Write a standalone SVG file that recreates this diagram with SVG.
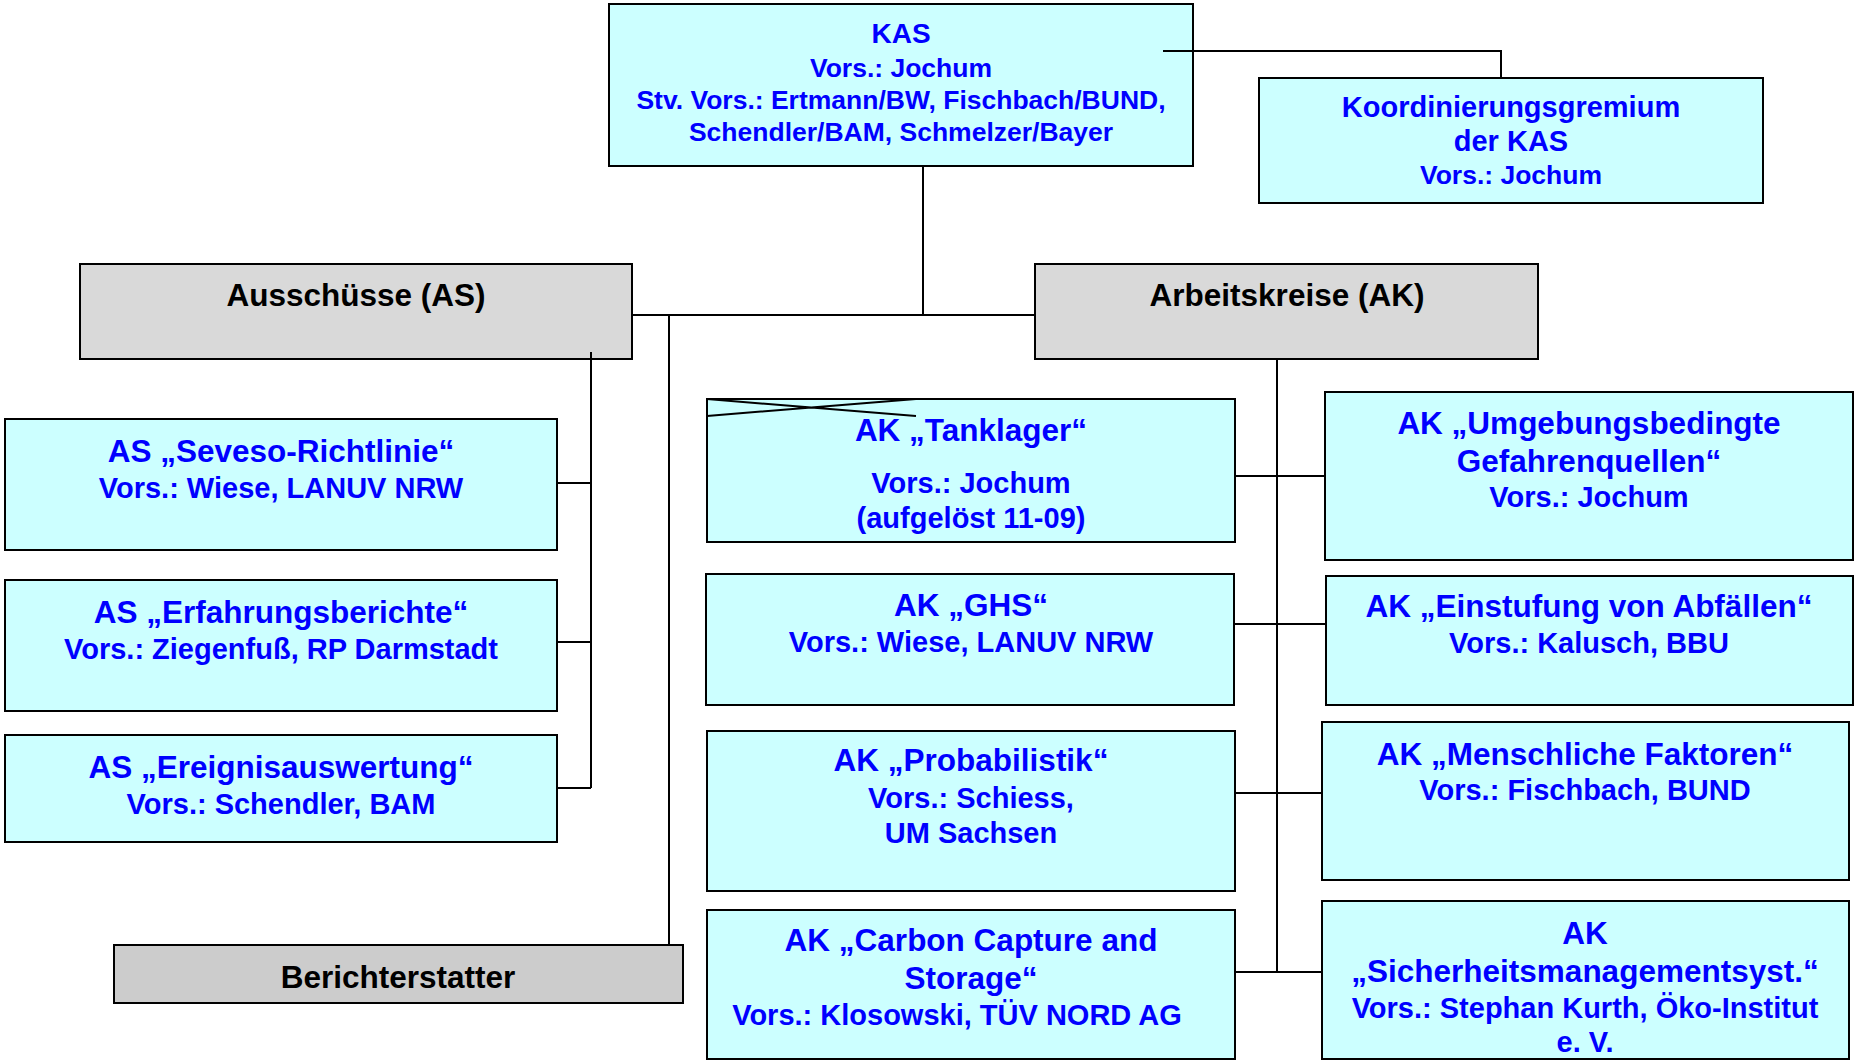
<svg xmlns="http://www.w3.org/2000/svg" width="1857" height="1064" viewBox="0 0 1857 1064">
<style>
.box{fill:#CCFFFF;stroke:#000;stroke-width:2}
.hdr{fill:#D9D9D9;stroke:#000;stroke-width:2}
.ber{fill:#CCCCCC;stroke:#000;stroke-width:2}
text{font-family:"Liberation Sans",Arial,sans-serif;font-weight:bold;text-anchor:middle}
.t{fill:#0000FF;font-size:31.5px}
.s{fill:#0000FF;font-size:29px}
.k{fill:#0000FF;font-size:26.5px}
.h{fill:#000;font-size:31.5px}
.ln{stroke:#000;stroke-width:2;fill:none}
</style>
<rect width="1857" height="1064" fill="#fff"/>
<g id="kas">
<rect class="box" x="609" y="4" width="584" height="162"/>
<text x="901" y="43" class="k" style="font-size:28px">KAS</text>
<text x="901" y="77" class="k">Vors.: Jochum</text>
<text x="901" y="109" class="k">Stv. Vors.: Ertmann/BW, Fischbach/BUND,</text>
<text x="901" y="141" class="k">Schendler/BAM, Schmelzer/Bayer</text>
</g>
<g id="koord">
<rect class="box" x="1259" y="78" width="504" height="125"/>
<text x="1511" y="117" class="s">Koordinierungsgremium</text>
<text x="1511" y="151" class="s">der KAS</text>
<text x="1511" y="184" class="k">Vors.: Jochum</text>
</g>
<g id="as-header">
<rect class="hdr" x="80" y="264" width="552" height="95"/>
<text x="356" y="306" class="h">Ausschüsse (AS)</text>
</g>
<g id="ak-header">
<rect class="hdr" x="1035" y="264" width="503" height="95"/>
<text x="1287" y="306" class="h">Arbeitskreise (AK)</text>
</g>
<g id="as-seveso">
<rect class="box" x="5" y="419" width="552" height="131"/>
<text x="281" y="462" class="t">AS „Seveso-Richtlinie“</text>
<text x="281" y="498" class="s">Vors.: Wiese, LANUV NRW</text>
</g>
<g id="as-erfahrung">
<rect class="box" x="5" y="580" width="552" height="131"/>
<text x="281" y="623" class="t">AS „Erfahrungsberichte“</text>
<text x="281" y="659" class="s">Vors.: Ziegenfuß, RP Darmstadt</text>
</g>
<g id="as-ereignis">
<rect class="box" x="5" y="735" width="552" height="107"/>
<text x="281" y="778" class="t">AS „Ereignisauswertung“</text>
<text x="281" y="814" class="s">Vors.: Schendler, BAM</text>
</g>
<g id="berichterstatter">
<rect class="ber" x="114" y="945" width="569" height="58"/>
<text x="398" y="988" class="h">Berichterstatter</text>
</g>
<g id="ak-tanklager">
<rect class="box" x="707" y="399" width="528" height="143"/>
<path class="ln" d="M707 399L916 416M707 416L916 399"/>
<text x="971" y="441" class="t">AK „Tanklager“</text>
<text x="971" y="493" class="s">Vors.: Jochum</text>
<text x="971" y="528" class="s">(aufgelöst 11-09)</text>
</g>
<g id="ak-ghs">
<rect class="box" x="706" y="574" width="528" height="131"/>
<text x="971" y="616" class="t">AK „GHS“</text>
<text x="971" y="652" class="s">Vors.: Wiese, LANUV NRW</text>
</g>
<g id="ak-probabilistik">
<rect class="box" x="707" y="731" width="528" height="160"/>
<text x="971" y="771" class="t">AK „Probabilistik“</text>
<text x="971" y="808" class="s">Vors.: Schiess,</text>
<text x="971" y="843" class="s">UM Sachsen</text>
</g>
<g id="ak-ccs">
<rect class="box" x="707" y="910" width="528" height="149"/>
<text x="971" y="951" class="t">AK „Carbon Capture and</text>
<text x="971" y="989" class="t">Storage“</text>
<text x="957" y="1025" class="s">Vors.: Klosowski, TÜV NORD AG</text>
</g>
<g id="ak-umgebung">
<rect class="box" x="1325" y="392" width="528" height="168"/>
<text x="1589" y="434" class="t">AK „Umgebungsbedingte</text>
<text x="1589" y="472" class="t">Gefahrenquellen“</text>
<text x="1589" y="507" class="s">Vors.: Jochum</text>
</g>
<g id="ak-abfaelle">
<rect class="box" x="1326" y="576" width="527" height="129"/>
<text x="1589" y="617" class="t">AK „Einstufung von Abfällen“</text>
<text x="1589" y="653" class="s">Vors.: Kalusch, BBU</text>
</g>
<g id="ak-menschliche">
<rect class="box" x="1322" y="722" width="527" height="158"/>
<text x="1585" y="765" class="t">AK „Menschliche Faktoren“</text>
<text x="1585" y="800" class="s">Vors.: Fischbach, BUND</text>
</g>
<g id="ak-sicherheit">
<rect class="box" x="1322" y="901" width="527" height="158"/>
<text x="1585" y="944" class="t">AK</text>
<text x="1585" y="982" class="t">„Sicherheitsmanagementsyst.“</text>
<text x="1585" y="1018" class="s">Vors.: Stephan Kurth, Öko-Institut</text>
<text x="1585" y="1052" class="s">e. V.</text>
</g>
<g id="connectors">
<path class="ln" d="M923 167V315M633 315H1034"/>
<path class="ln" d="M1163 51H1501V77"/>
<path class="ln" d="M669 315V944"/>
<path class="ln" d="M591 352V788M558 483H591M558 642H591M558 788H591"/>
<path class="ln" d="M1277 360V972M1236 476H1324M1235 624H1325M1236 793H1321M1236 972H1321"/>
</g>
</svg>
